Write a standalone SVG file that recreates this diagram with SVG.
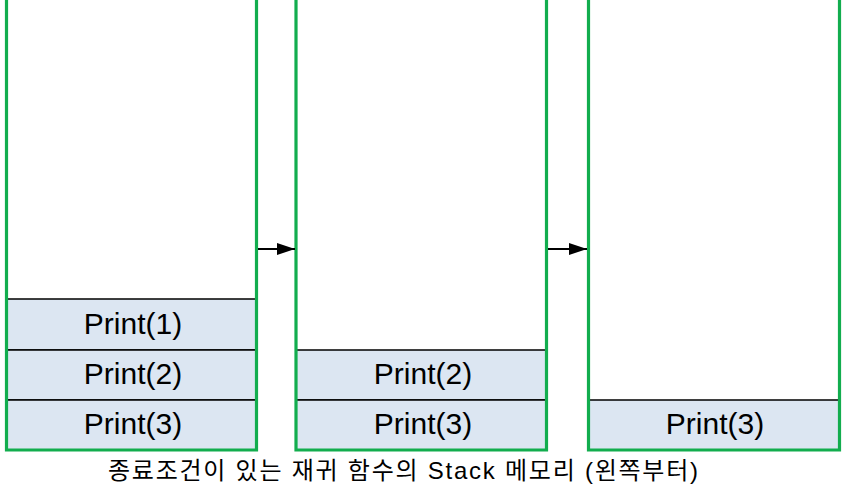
<svg xmlns="http://www.w3.org/2000/svg" width="848" height="504" viewBox="0 0 848 504">
<style>
.cell{fill:#dce6f2;stroke:#000;stroke-width:1.5}
.wall{fill:none;stroke:#12ad4e;stroke-width:3.2;stroke-linejoin:miter}
.lbl{font-family:"Liberation Sans",Arial,sans-serif;font-size:30px;fill:#000;text-anchor:middle}
.cap{font-family:"Liberation Sans","Noto Sans CJK KR",sans-serif;font-size:24px;fill:#000}
.conn{stroke:#000;stroke-width:2;fill:none}
</style>
<defs>
<marker id="ah" markerWidth="18" markerHeight="12" refX="18" refY="6" orient="auto" markerUnits="userSpaceOnUse" viewBox="0 0 18 12">
<path d="M0,0 L18,6 L0,12 Z" fill="#000"/>
</marker>
</defs>
<rect width="848" height="504" fill="#fff"/>
<g id="stack1">
<rect class="cell" x="6.5" y="299" width="250" height="51"/>
<rect class="cell" x="6.5" y="350" width="250" height="50"/>
<rect class="cell" x="6.5" y="400" width="250" height="50"/>
<text class="lbl" x="133" y="334">Print(1)</text>
<text class="lbl" x="133" y="384">Print(2)</text>
<text class="lbl" x="133" y="434">Print(3)</text>
<path class="wall" d="M6.5,0 V450 H256.5 V0"/>
</g>
<g id="stack2">
<rect class="cell" x="296" y="350" width="250.5" height="50"/>
<rect class="cell" x="296" y="400" width="250.5" height="50"/>
<text class="lbl" x="423" y="384">Print(2)</text>
<text class="lbl" x="423" y="434">Print(3)</text>
<path class="wall" d="M296,0 V450 H546.5 V0"/>
</g>
<g id="stack3">
<rect class="cell" x="588.5" y="400" width="251" height="50"/>
<text class="lbl" x="715" y="434">Print(3)</text>
<path class="wall" d="M588.5,0 V450 H839.5 V0"/>
</g>
<g id="connectors">
<line class="conn" x1="258" y1="249" x2="295" y2="249" marker-end="url(#ah)"/>
<line class="conn" x1="548" y1="249" x2="587" y2="249" marker-end="url(#ah)"/>
</g>
<g id="caption">
<text class="cap" x="108" y="479" textLength="590" lengthAdjust="spacing">종료조건이 있는 재귀 함수의 Stack 메모리 (왼쪽부터)</text>
</g>
</svg>
